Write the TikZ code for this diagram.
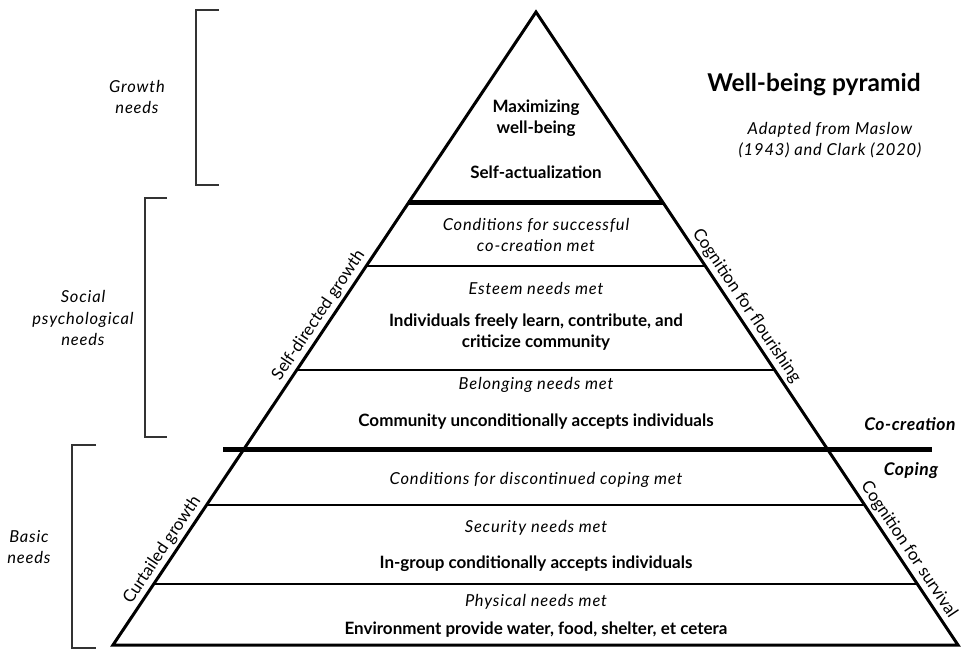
\documentclass[tikz,border=0pt]{standalone}
\usepackage{fontspec}
\setmainfont{Lato}
\usetikzlibrary{calc}

\begin{document}
\begin{tikzpicture}[x=1pt,y=-1pt,
  txt/.style={align=center,font=\fontsize{16.5}{21.5}\selectfont,inner sep=0pt},
  btxt/.style={txt,font=\fontsize{17}{21.5}\selectfont\bfseries},
  itxt/.style={txt,font=\fontsize{16.5}{21.5}\selectfont\itshape\addfontfeatures{LetterSpace=5}},
  side/.style={font=\fontsize{17}{19}\selectfont,sloped,above,inner sep=4pt},
  tag/.style={txt,font=\fontsize{17.5}{20}\selectfont\bfseries\itshape\addfontfeatures{LetterSpace=3}},
  level/.style={line width=1.5pt},
  divider/.style={line width=5pt},
  bracket/.style={line width=1.5pt,draw=black!80}]
\useasboundingbox (0,0) rectangle (962,649);

% pyramid corners and levels
\coordinate (apex) at (536,12);
\coordinate (bl) at (113,645);
\coordinate (br) at (958,645);
\coordinate (l1) at ($(apex)!0.3017!(bl)$);
\coordinate (r1) at ($(apex)!0.3017!(br)$);
\coordinate (l2) at ($(apex)!0.4013!(bl)$);
\coordinate (r2) at ($(apex)!0.4013!(br)$);
\coordinate (l3) at ($(apex)!0.5656!(bl)$);
\coordinate (r3) at ($(apex)!0.5656!(br)$);
\coordinate (l4) at (223,449);
\coordinate (r4) at (932,449);
\coordinate (l5) at ($(apex)!0.7788!(bl)$);
\coordinate (r5) at ($(apex)!0.7788!(br)$);
\coordinate (l6) at ($(apex)!0.9036!(bl)$);
\coordinate (r6) at ($(apex)!0.9036!(br)$);

\draw[divider] (l1) -- (r1);
\draw[level] (l2) -- (r2);
\draw[level] (l3) -- (r3);
\draw[divider] (l4) -- (r4);
\draw[level] (l5) -- (r5);
\draw[level] (l6) -- (r6);
\draw[line width=3pt] (apex) -- (bl) -- (br) -- cycle;

% side labels
\path (bl) -- (apex) node[side,pos=0.51] (selfdir) {Self-directed growth};
\path (bl) -- (apex) node[side,pos=0.14] (curtail) {Curtailed growth};
\path (apex) -- (br) node[side,pos=0.475] (flourish) {Cognition for flourishing};
\path (apex) -- (br) node[side,pos=0.86] (survive) {Cognition for survival};

% brackets
\draw[bracket] (219,10) -- (196,10) -- (196,185) -- (219,185);
\draw[bracket] (167,198) -- (145,198) -- (145,437) -- (167,437);
\draw[bracket] (96,445) -- (72,445) -- (72,648) -- (96,648);
\node[itxt] (growth) at (137,97) {Growth\\needs};
\node[itxt] (social) at (83,318) {Social\\psychological\\needs};
\node[itxt] (basic) at (29,547) {Basic\\needs};

% title
\node[txt,font=\fontsize{24.5}{28}\selectfont\bfseries] (title) at (814,85) {Well-being pyramid};
\node[itxt] (source) at (830,140) {Adapted from Maslow\\(1943) and Clark (2020)};
\node[tag] (cocreate) at (910,424) {Co-creation};
\node[tag] (coping) at (911,471) {Coping};

% level texts
\node[btxt] (maxwb) at (536,118) {Maximizing\\well-being};
\node[btxt] (selfact) at (536,172) {Self-actualization};
\node[itxt] (succ) at (536,235) {Conditions for successful\\co-creation met};
\node[itxt] (esteem) at (536,288) {Esteem needs met};
\node[btxt] (learn) at (536,332) {Individuals freely learn, contribute, and\\criticize community};
\node[itxt] (belong) at (536,385) {Belonging needs met};
\node[btxt] (accept) at (536,422) {Community unconditionally accepts individuals};
\node[itxt] (discont) at (536,480) {Conditions for discontinued coping met};
\node[itxt] (secure) at (536,528) {Security needs met};
\node[btxt] (ingroup) at (536,564) {In-group conditionally accepts individuals};
\node[itxt] (phys) at (536,602) {Physical needs met};
\node[btxt] (env) at (536,630) {Environment provide water, food, shelter, et cetera};
\end{tikzpicture}
\end{document}
